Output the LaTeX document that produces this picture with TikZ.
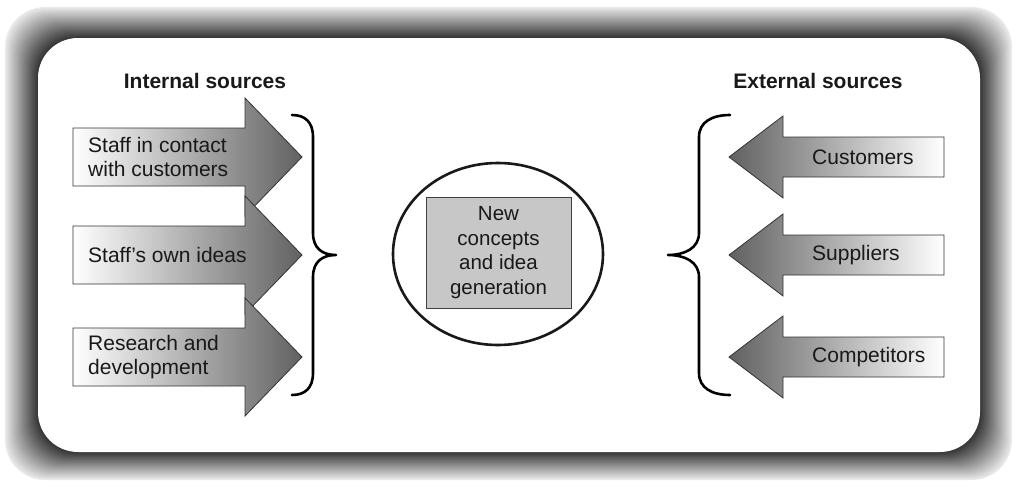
\documentclass[tikz,border=0pt]{standalone}
\usepackage{fontspec}
\setmainfont{Liberation Sans}
\usetikzlibrary{shapes.geometric}
\begin{document}
\begin{tikzpicture}[x=1pt,y=-1pt,
  inarrow/.style={draw=black!80, line width=0.8pt, left color=white, right color=black!62},
  exarrow/.style={draw=black!80, line width=0.8pt, left color=black!62, right color=white},
  srctext/.style={anchor=west, align=left, inner sep=0pt, text=black!90,
    font=\fontsize{21}{24}\selectfont},
  heading/.style={inner sep=0pt, text=black!90, font=\bfseries\fontsize{21}{24}\selectfont},
  bracket/.style={line width=2.6pt, line cap=round, line join=round},
]
\useasboundingbox (0,0) rectangle (1015,482);

% shaded frame: concentric rounded rectangles, light outside, dark inside
\foreach \i in {0,...,40}{
  \pgfmathsetmacro\t{\i/40}
  \pgfmathsetmacro\shadeval{8+72*\t}
  \fill[black!\shadeval, rounded corners=40pt]
    ({5+33*\t},{7+31*\t}) rectangle ({1012-32*\t},{480-28*\t});
}
\fill[white, rounded corners=40pt] (38,38) rectangle (980,452);

% headings
\node[heading] (hint) at (205,81) {Internal sources};
\node[heading] (hext) at (818,81) {External sources};

% internal source arrows (pointing right)
\foreach \yc in {157,255,357}{
  \path[inarrow] (73,\yc-29) -- (245,\yc-29) -- (245,\yc-59) -- (302,\yc)
    -- (245,\yc+59) -- (245,\yc+29) -- (73,\yc+29) -- cycle;
}
\node[srctext] (staff) at (88,157) {Staff in contact\\with customers};
\node[srctext] (ideas) at (88,255) {Staff’s own ideas};
\node[srctext] (rd)    at (88,357) {Research and\\development};

% external source arrows (pointing left)
\foreach \yc in {157,255,357}{
  \path[exarrow] (944,\yc-20) -- (783,\yc-20) -- (783,\yc-41) -- (729,\yc)
    -- (783,\yc+41) -- (783,\yc+20) -- (944,\yc+20) -- cycle;
}
\node[srctext] (cust) at (812,157) {Customers};
\node[srctext] (supp) at (812,255) {Suppliers};
\node[srctext] (comp) at (812,357) {Competitors};

% braces
\draw[bracket] (292,115) .. controls (305,115) and (313,122) .. (313,137)
  -- (313,233) .. controls (313,248) and (322,255) .. (336,255)
  .. controls (322,255) and (313,262) .. (313,277)
  -- (313,373) .. controls (313,388) and (305,395) .. (292,395);
\draw[bracket] (730,115) .. controls (712,115) and (699,122) .. (699,137)
  -- (699,233) .. controls (699,248) and (685,255) .. (668,255)
  .. controls (685,255) and (699,262) .. (699,277)
  -- (699,373) .. controls (699,388) and (712,395) .. (730,395);

% central idea generation
\node[ellipse, draw=black!90, line width=2.6pt, minimum width=210pt, minimum height=182pt]
  (hub) at (498,254) {};
\node[draw=black!75, fill=black!22, line width=0.8pt, minimum width=145pt, minimum height=111pt,
  inner sep=0pt, align=center, text=black!90, font=\fontsize{20.5}{24.5}\selectfont]
  (core) at (498.5,252.5) {New\\concepts\\and idea\\generation};
\end{tikzpicture}
\end{document}
